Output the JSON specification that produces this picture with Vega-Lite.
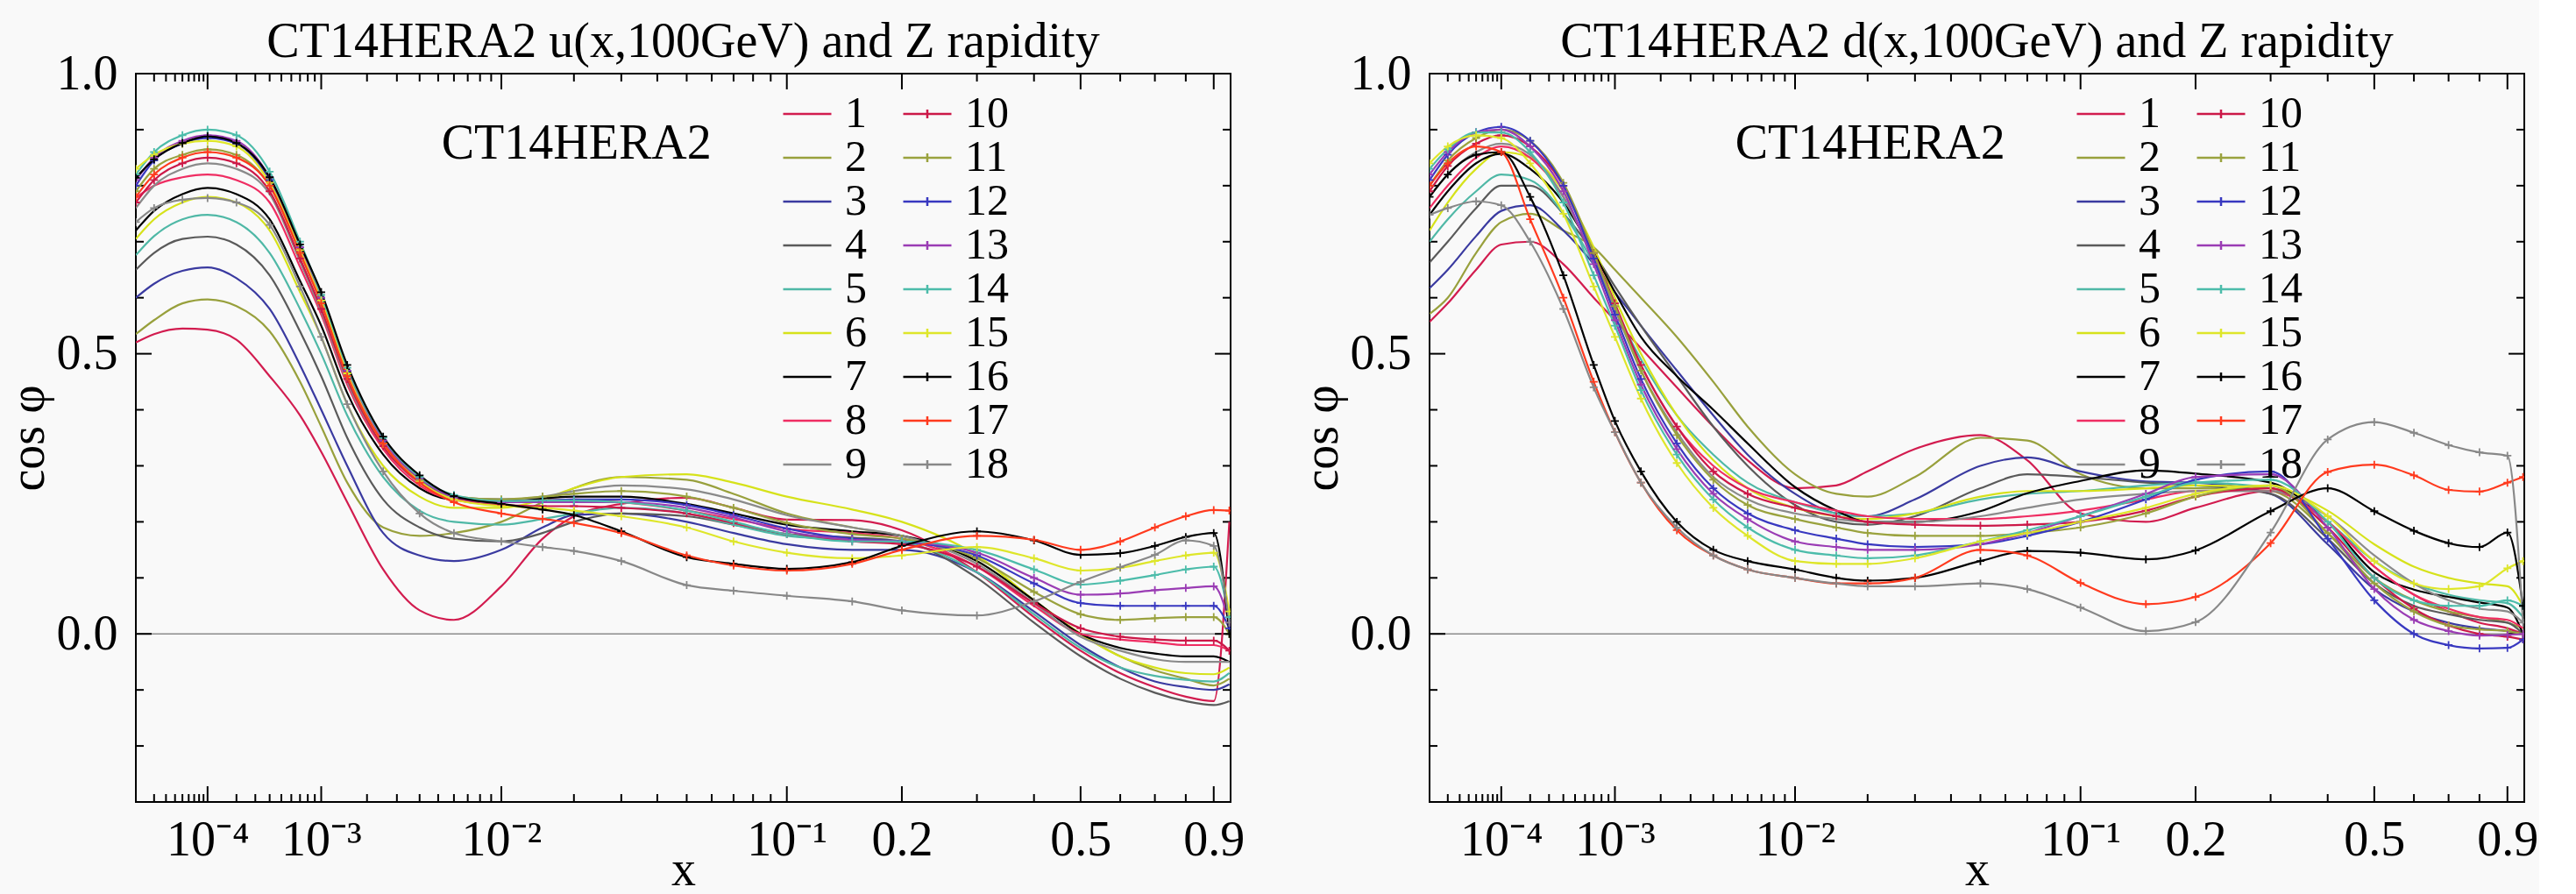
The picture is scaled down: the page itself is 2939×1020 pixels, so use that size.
{
  "$schema": "https://vega.github.io/schema/vega-lite/v6.json",
  "background": "#f9f9f9",
  "padding": {"left": 3, "top": 19, "right": 0, "bottom": 0},
  "spacing": 58,
  "resolve": {"scale": {"color": "independent"}},
  "datasets": {
    "xmaj": [{"t": 0.0001}, {"t": 0.001}, {"t": 0.01}, {"t": 0.1}, {"t": 0.2}, {"t": 0.5}, {"t": 0.9}],
    "xmin": [
      {"t": 2e-5}, {"t": 3e-5}, {"t": 4e-5}, {"t": 5e-5}, {"t": 6e-5}, {"t": 7e-5}, {"t": 8e-5}, {"t": 9e-5},
      {"t": 2e-4}, {"t": 3e-4}, {"t": 4e-4}, {"t": 5e-4}, {"t": 6e-4}, {"t": 7e-4}, {"t": 8e-4}, {"t": 9e-4},
      {"t": 2e-3}, {"t": 3e-3}, {"t": 4e-3}, {"t": 5e-3}, {"t": 6e-3}, {"t": 7e-3}, {"t": 8e-3}, {"t": 9e-3},
      {"t": 0.02}, {"t": 0.03}, {"t": 0.04}, {"t": 0.05}, {"t": 0.06}, {"t": 0.07}, {"t": 0.08}, {"t": 0.09},
      {"t": 0.3}, {"t": 0.4}, {"t": 0.6}, {"t": 0.7}, {"t": 0.8}
    ],
    "ymaj": [{"t": 0}, {"t": 0.5}],
    "ymin": [{"t": -0.2}, {"t": -0.1}, {"t": 0.1}, {"t": 0.2}, {"t": 0.3}, {"t": 0.4}, {"t": 0.6}, {"t": 0.7}, {"t": 0.8}, {"t": 0.9}],
    "u": [
      {"x":1e-5,"n":1,"cos":0.52},{"x":2e-5,"n":1,"cos":0.535},{"x":5e-5,"n":1,"cos":0.545},{"x":1e-4,"n":1,"cos":0.543},{"x":2e-4,"n":1,"cos":0.525},{"x":4e-4,"n":1,"cos":0.46},{"x":7e-4,"n":1,"cos":0.39},{"x":1e-3,"n":1,"cos":0.325},{"x":1.5e-3,"n":1,"cos":0.235},{"x":2.5e-3,"n":1,"cos":0.115},{"x":4e-3,"n":1,"cos":0.042},{"x":6e-3,"n":1,"cos":0.025},{"x":0.01,"n":1,"cos":0.085},{"x":0.015,"n":1,"cos":0.17},{"x":0.02,"n":1,"cos":0.21},{"x":0.03,"n":1,"cos":0.232},{"x":0.05,"n":1,"cos":0.243},{"x":0.07,"n":1,"cos":0.225},{"x":0.1,"n":1,"cos":0.204},{"x":0.15,"n":1,"cos":0.203},{"x":0.2,"n":1,"cos":0.185},{"x":0.3,"n":1,"cos":0.11},{"x":0.4,"n":1,"cos":0.03},{"x":0.5,"n":1,"cos":-0.03},{"x":0.6,"n":1,"cos":-0.07},{"x":0.7,"n":1,"cos":-0.095},{"x":0.8,"n":1,"cos":-0.112},{"x":0.9,"n":1,"cos":-0.12},{"x":0.96,"n":1,"cos":0.2},
      {"x":1e-5,"n":2,"cos":0.535},{"x":2e-5,"n":2,"cos":0.56},{"x":5e-5,"n":2,"cos":0.59},{"x":1e-4,"n":2,"cos":0.597},{"x":2e-4,"n":2,"cos":0.585},{"x":4e-4,"n":2,"cos":0.54},{"x":7e-4,"n":2,"cos":0.45},{"x":1e-3,"n":2,"cos":0.37},{"x":1.5e-3,"n":2,"cos":0.27},{"x":2.5e-3,"n":2,"cos":0.19},{"x":4e-3,"n":2,"cos":0.175},{"x":6e-3,"n":2,"cos":0.18},{"x":0.01,"n":2,"cos":0.2},{"x":0.015,"n":2,"cos":0.235},{"x":0.02,"n":2,"cos":0.26},{"x":0.03,"n":2,"cos":0.28},{"x":0.05,"n":2,"cos":0.275},{"x":0.07,"n":2,"cos":0.25},{"x":0.1,"n":2,"cos":0.215},{"x":0.15,"n":2,"cos":0.19},{"x":0.2,"n":2,"cos":0.175},{"x":0.3,"n":2,"cos":0.13},{"x":0.4,"n":2,"cos":0.06},{"x":0.5,"n":2,"cos":0},{"x":0.6,"n":2,"cos":-0.04},{"x":0.7,"n":2,"cos":-0.065},{"x":0.8,"n":2,"cos":-0.08},{"x":0.9,"n":2,"cos":-0.092},{"x":0.96,"n":2,"cos":-0.08},
      {"x":1e-5,"n":3,"cos":0.6},{"x":2e-5,"n":3,"cos":0.625},{"x":5e-5,"n":3,"cos":0.648},{"x":1e-4,"n":3,"cos":0.654},{"x":2e-4,"n":3,"cos":0.635},{"x":4e-4,"n":3,"cos":0.58},{"x":7e-4,"n":3,"cos":0.48},{"x":1e-3,"n":3,"cos":0.4},{"x":1.5e-3,"n":3,"cos":0.3},{"x":2.5e-3,"n":3,"cos":0.18},{"x":4e-3,"n":3,"cos":0.14},{"x":6e-3,"n":3,"cos":0.13},{"x":0.01,"n":3,"cos":0.15},{"x":0.015,"n":3,"cos":0.19},{"x":0.02,"n":3,"cos":0.212},{"x":0.03,"n":3,"cos":0.215},{"x":0.05,"n":3,"cos":0.2},{"x":0.07,"n":3,"cos":0.18},{"x":0.1,"n":3,"cos":0.16},{"x":0.15,"n":3,"cos":0.15},{"x":0.2,"n":3,"cos":0.15},{"x":0.3,"n":3,"cos":0.11},{"x":0.4,"n":3,"cos":0.04},{"x":0.5,"n":3,"cos":-0.02},{"x":0.6,"n":3,"cos":-0.06},{"x":0.7,"n":3,"cos":-0.085},{"x":0.8,"n":3,"cos":-0.095},{"x":0.9,"n":3,"cos":-0.1},{"x":0.96,"n":3,"cos":-0.09},
      {"x":1e-5,"n":4,"cos":0.65},{"x":2e-5,"n":4,"cos":0.68},{"x":5e-5,"n":4,"cos":0.705},{"x":1e-4,"n":4,"cos":0.709},{"x":2e-4,"n":4,"cos":0.695},{"x":4e-4,"n":4,"cos":0.64},{"x":7e-4,"n":4,"cos":0.54},{"x":1e-3,"n":4,"cos":0.46},{"x":1.5e-3,"n":4,"cos":0.35},{"x":2.5e-3,"n":4,"cos":0.24},{"x":4e-3,"n":4,"cos":0.19},{"x":6e-3,"n":4,"cos":0.17},{"x":0.01,"n":4,"cos":0.165},{"x":0.015,"n":4,"cos":0.18},{"x":0.02,"n":4,"cos":0.2},{"x":0.03,"n":4,"cos":0.215},{"x":0.05,"n":4,"cos":0.21},{"x":0.07,"n":4,"cos":0.195},{"x":0.1,"n":4,"cos":0.178},{"x":0.15,"n":4,"cos":0.172},{"x":0.2,"n":4,"cos":0.165},{"x":0.3,"n":4,"cos":0.1},{"x":0.4,"n":4,"cos":0.02},{"x":0.5,"n":4,"cos":-0.04},{"x":0.6,"n":4,"cos":-0.08},{"x":0.7,"n":4,"cos":-0.105},{"x":0.8,"n":4,"cos":-0.12},{"x":0.9,"n":4,"cos":-0.127},{"x":0.96,"n":4,"cos":-0.12},
      {"x":1e-5,"n":5,"cos":0.676},{"x":2e-5,"n":5,"cos":0.71},{"x":5e-5,"n":5,"cos":0.74},{"x":1e-4,"n":5,"cos":0.748},{"x":2e-4,"n":5,"cos":0.735},{"x":4e-4,"n":5,"cos":0.68},{"x":7e-4,"n":5,"cos":0.58},{"x":1e-3,"n":5,"cos":0.5},{"x":1.5e-3,"n":5,"cos":0.39},{"x":2.5e-3,"n":5,"cos":0.28},{"x":4e-3,"n":5,"cos":0.22},{"x":6e-3,"n":5,"cos":0.2},{"x":0.01,"n":5,"cos":0.195},{"x":0.015,"n":5,"cos":0.205},{"x":0.02,"n":5,"cos":0.215},{"x":0.03,"n":5,"cos":0.225},{"x":0.05,"n":5,"cos":0.215},{"x":0.07,"n":5,"cos":0.195},{"x":0.1,"n":5,"cos":0.175},{"x":0.15,"n":5,"cos":0.168},{"x":0.2,"n":5,"cos":0.163},{"x":0.3,"n":5,"cos":0.11},{"x":0.4,"n":5,"cos":0.035},{"x":0.5,"n":5,"cos":-0.025},{"x":0.6,"n":5,"cos":-0.06},{"x":0.7,"n":5,"cos":-0.075},{"x":0.8,"n":5,"cos":-0.082},{"x":0.9,"n":5,"cos":-0.085},{"x":0.96,"n":5,"cos":-0.07},
      {"x":1e-5,"n":6,"cos":0.705},{"x":2e-5,"n":6,"cos":0.74},{"x":5e-5,"n":6,"cos":0.77},{"x":1e-4,"n":6,"cos":0.78},{"x":2e-4,"n":6,"cos":0.77},{"x":4e-4,"n":6,"cos":0.72},{"x":7e-4,"n":6,"cos":0.61},{"x":1e-3,"n":6,"cos":0.53},{"x":1.5e-3,"n":6,"cos":0.41},{"x":2.5e-3,"n":6,"cos":0.3},{"x":4e-3,"n":6,"cos":0.245},{"x":6e-3,"n":6,"cos":0.225},{"x":0.01,"n":6,"cos":0.225},{"x":0.015,"n":6,"cos":0.24},{"x":0.02,"n":6,"cos":0.26},{"x":0.03,"n":6,"cos":0.28},{"x":0.05,"n":6,"cos":0.285},{"x":0.07,"n":6,"cos":0.27},{"x":0.1,"n":6,"cos":0.245},{"x":0.15,"n":6,"cos":0.222},{"x":0.2,"n":6,"cos":0.2},{"x":0.3,"n":6,"cos":0.14},{"x":0.4,"n":6,"cos":0.06},{"x":0.5,"n":6,"cos":0},{"x":0.6,"n":6,"cos":-0.04},{"x":0.7,"n":6,"cos":-0.06},{"x":0.8,"n":6,"cos":-0.07},{"x":0.9,"n":6,"cos":-0.072},{"x":0.96,"n":6,"cos":-0.06},
      {"x":1e-5,"n":7,"cos":0.72},{"x":2e-5,"n":7,"cos":0.755},{"x":5e-5,"n":7,"cos":0.785},{"x":1e-4,"n":7,"cos":0.796},{"x":2e-4,"n":7,"cos":0.785},{"x":4e-4,"n":7,"cos":0.74},{"x":7e-4,"n":7,"cos":0.63},{"x":1e-3,"n":7,"cos":0.55},{"x":1.5e-3,"n":7,"cos":0.43},{"x":2.5e-3,"n":7,"cos":0.32},{"x":4e-3,"n":7,"cos":0.26},{"x":6e-3,"n":7,"cos":0.24},{"x":0.01,"n":7,"cos":0.24},{"x":0.015,"n":7,"cos":0.242},{"x":0.02,"n":7,"cos":0.245},{"x":0.03,"n":7,"cos":0.245},{"x":0.05,"n":7,"cos":0.232},{"x":0.07,"n":7,"cos":0.215},{"x":0.1,"n":7,"cos":0.195},{"x":0.15,"n":7,"cos":0.183},{"x":0.2,"n":7,"cos":0.175},{"x":0.3,"n":7,"cos":0.13},{"x":0.4,"n":7,"cos":0.06},{"x":0.5,"n":7,"cos":0},{"x":0.6,"n":7,"cos":-0.025},{"x":0.7,"n":7,"cos":-0.035},{"x":0.8,"n":7,"cos":-0.04},{"x":0.9,"n":7,"cos":-0.04},{"x":0.96,"n":7,"cos":-0.05},
      {"x":1e-5,"n":8,"cos":0.778},{"x":2e-5,"n":8,"cos":0.8},{"x":5e-5,"n":8,"cos":0.815},{"x":1e-4,"n":8,"cos":0.82},{"x":2e-4,"n":8,"cos":0.81},{"x":4e-4,"n":8,"cos":0.77},{"x":7e-4,"n":8,"cos":0.655},{"x":1e-3,"n":8,"cos":0.57},{"x":1.5e-3,"n":8,"cos":0.445},{"x":2.5e-3,"n":8,"cos":0.33},{"x":4e-3,"n":8,"cos":0.265},{"x":6e-3,"n":8,"cos":0.24},{"x":0.01,"n":8,"cos":0.235},{"x":0.015,"n":8,"cos":0.238},{"x":0.02,"n":8,"cos":0.24},{"x":0.03,"n":8,"cos":0.235},{"x":0.05,"n":8,"cos":0.22},{"x":0.07,"n":8,"cos":0.205},{"x":0.1,"n":8,"cos":0.188},{"x":0.15,"n":8,"cos":0.18},{"x":0.2,"n":8,"cos":0.17},{"x":0.3,"n":8,"cos":0.12},{"x":0.4,"n":8,"cos":0.05},{"x":0.5,"n":8,"cos":0},{"x":0.6,"n":8,"cos":-0.01},{"x":0.7,"n":8,"cos":-0.015},{"x":0.8,"n":8,"cos":-0.02},{"x":0.9,"n":8,"cos":-0.02},{"x":0.96,"n":8,"cos":-0.03},
      {"x":1e-5,"n":9,"cos":0.76},{"x":2e-5,"n":9,"cos":0.8},{"x":5e-5,"n":9,"cos":0.83},{"x":1e-4,"n":9,"cos":0.84},{"x":2e-4,"n":9,"cos":0.83},{"x":4e-4,"n":9,"cos":0.785},{"x":7e-4,"n":9,"cos":0.665},{"x":1e-3,"n":9,"cos":0.575},{"x":1.5e-3,"n":9,"cos":0.45},{"x":2.5e-3,"n":9,"cos":0.335},{"x":4e-3,"n":9,"cos":0.27},{"x":6e-3,"n":9,"cos":0.245},{"x":0.01,"n":9,"cos":0.24},{"x":0.015,"n":9,"cos":0.245},{"x":0.02,"n":9,"cos":0.255},{"x":0.03,"n":9,"cos":0.265},{"x":0.05,"n":9,"cos":0.258},{"x":0.07,"n":9,"cos":0.24},{"x":0.1,"n":9,"cos":0.212},{"x":0.15,"n":9,"cos":0.19},{"x":0.2,"n":9,"cos":0.175},{"x":0.3,"n":9,"cos":0.125},{"x":0.4,"n":9,"cos":0.055},{"x":0.5,"n":9,"cos":-0.005},{"x":0.6,"n":9,"cos":-0.03},{"x":0.7,"n":9,"cos":-0.045},{"x":0.8,"n":9,"cos":-0.05},{"x":0.9,"n":9,"cos":-0.05},{"x":0.96,"n":9,"cos":-0.05},
      {"x":1e-5,"n":10,"cos":0.77},{"x":2e-5,"n":10,"cos":0.81},{"x":5e-5,"n":10,"cos":0.84},{"x":1e-4,"n":10,"cos":0.85},{"x":2e-4,"n":10,"cos":0.84},{"x":4e-4,"n":10,"cos":0.79},{"x":7e-4,"n":10,"cos":0.67},{"x":1e-3,"n":10,"cos":0.58},{"x":1.5e-3,"n":10,"cos":0.455},{"x":2.5e-3,"n":10,"cos":0.335},{"x":4e-3,"n":10,"cos":0.27},{"x":6e-3,"n":10,"cos":0.24},{"x":0.01,"n":10,"cos":0.23},{"x":0.015,"n":10,"cos":0.228},{"x":0.02,"n":10,"cos":0.228},{"x":0.03,"n":10,"cos":0.225},{"x":0.05,"n":10,"cos":0.215},{"x":0.07,"n":10,"cos":0.198},{"x":0.1,"n":10,"cos":0.178},{"x":0.15,"n":10,"cos":0.165},{"x":0.2,"n":10,"cos":0.16},{"x":0.3,"n":10,"cos":0.12},{"x":0.4,"n":10,"cos":0.055},{"x":0.5,"n":10,"cos":0.01},{"x":0.6,"n":10,"cos":-0.005},{"x":0.7,"n":10,"cos":-0.01},{"x":0.8,"n":10,"cos":-0.012},{"x":0.9,"n":10,"cos":-0.012},{"x":0.96,"n":10,"cos":-0.03},
      {"x":1e-5,"n":11,"cos":0.79},{"x":2e-5,"n":11,"cos":0.83},{"x":5e-5,"n":11,"cos":0.855},{"x":1e-4,"n":11,"cos":0.865},{"x":2e-4,"n":11,"cos":0.855},{"x":4e-4,"n":11,"cos":0.8},{"x":7e-4,"n":11,"cos":0.68},{"x":1e-3,"n":11,"cos":0.59},{"x":1.5e-3,"n":11,"cos":0.46},{"x":2.5e-3,"n":11,"cos":0.34},{"x":4e-3,"n":11,"cos":0.275},{"x":6e-3,"n":11,"cos":0.245},{"x":0.01,"n":11,"cos":0.24},{"x":0.015,"n":11,"cos":0.245},{"x":0.02,"n":11,"cos":0.25},{"x":0.03,"n":11,"cos":0.255},{"x":0.05,"n":11,"cos":0.245},{"x":0.07,"n":11,"cos":0.225},{"x":0.1,"n":11,"cos":0.198},{"x":0.15,"n":11,"cos":0.178},{"x":0.2,"n":11,"cos":0.17},{"x":0.3,"n":11,"cos":0.135},{"x":0.4,"n":11,"cos":0.075},{"x":0.5,"n":11,"cos":0.035},{"x":0.6,"n":11,"cos":0.025},{"x":0.7,"n":11,"cos":0.028},{"x":0.8,"n":11,"cos":0.03},{"x":0.9,"n":11,"cos":0.03},{"x":0.96,"n":11,"cos":0},
      {"x":1e-5,"n":12,"cos":0.8},{"x":2e-5,"n":12,"cos":0.845},{"x":5e-5,"n":12,"cos":0.875},{"x":1e-4,"n":12,"cos":0.885},{"x":2e-4,"n":12,"cos":0.875},{"x":4e-4,"n":12,"cos":0.81},{"x":7e-4,"n":12,"cos":0.69},{"x":1e-3,"n":12,"cos":0.6},{"x":1.5e-3,"n":12,"cos":0.47},{"x":2.5e-3,"n":12,"cos":0.345},{"x":4e-3,"n":12,"cos":0.278},{"x":6e-3,"n":12,"cos":0.245},{"x":0.01,"n":12,"cos":0.235},{"x":0.015,"n":12,"cos":0.238},{"x":0.02,"n":12,"cos":0.24},{"x":0.03,"n":12,"cos":0.24},{"x":0.05,"n":12,"cos":0.23},{"x":0.07,"n":12,"cos":0.212},{"x":0.1,"n":12,"cos":0.188},{"x":0.15,"n":12,"cos":0.17},{"x":0.2,"n":12,"cos":0.165},{"x":0.3,"n":12,"cos":0.14},{"x":0.4,"n":12,"cos":0.09},{"x":0.5,"n":12,"cos":0.055},{"x":0.6,"n":12,"cos":0.05},{"x":0.7,"n":12,"cos":0.05},{"x":0.8,"n":12,"cos":0.05},{"x":0.9,"n":12,"cos":0.05},{"x":0.96,"n":12,"cos":0.01},
      {"x":1e-5,"n":13,"cos":0.81},{"x":2e-5,"n":13,"cos":0.85},{"x":5e-5,"n":13,"cos":0.88},{"x":1e-4,"n":13,"cos":0.89},{"x":2e-4,"n":13,"cos":0.88},{"x":4e-4,"n":13,"cos":0.815},{"x":7e-4,"n":13,"cos":0.69},{"x":1e-3,"n":13,"cos":0.6},{"x":1.5e-3,"n":13,"cos":0.47},{"x":2.5e-3,"n":13,"cos":0.345},{"x":4e-3,"n":13,"cos":0.278},{"x":6e-3,"n":13,"cos":0.245},{"x":0.01,"n":13,"cos":0.235},{"x":0.015,"n":13,"cos":0.235},{"x":0.02,"n":13,"cos":0.235},{"x":0.03,"n":13,"cos":0.235},{"x":0.05,"n":13,"cos":0.225},{"x":0.07,"n":13,"cos":0.208},{"x":0.1,"n":13,"cos":0.183},{"x":0.15,"n":13,"cos":0.168},{"x":0.2,"n":13,"cos":0.165},{"x":0.3,"n":13,"cos":0.145},{"x":0.4,"n":13,"cos":0.1},{"x":0.5,"n":13,"cos":0.07},{"x":0.6,"n":13,"cos":0.072},{"x":0.7,"n":13,"cos":0.078},{"x":0.8,"n":13,"cos":0.082},{"x":0.9,"n":13,"cos":0.085},{"x":0.96,"n":13,"cos":0.02},
      {"x":1e-5,"n":14,"cos":0.82},{"x":2e-5,"n":14,"cos":0.86},{"x":5e-5,"n":14,"cos":0.89},{"x":1e-4,"n":14,"cos":0.9},{"x":2e-4,"n":14,"cos":0.89},{"x":4e-4,"n":14,"cos":0.825},{"x":7e-4,"n":14,"cos":0.7},{"x":1e-3,"n":14,"cos":0.605},{"x":1.5e-3,"n":14,"cos":0.475},{"x":2.5e-3,"n":14,"cos":0.35},{"x":4e-3,"n":14,"cos":0.28},{"x":6e-3,"n":14,"cos":0.248},{"x":0.01,"n":14,"cos":0.237},{"x":0.015,"n":14,"cos":0.238},{"x":0.02,"n":14,"cos":0.238},{"x":0.03,"n":14,"cos":0.235},{"x":0.05,"n":14,"cos":0.22},{"x":0.07,"n":14,"cos":0.2},{"x":0.1,"n":14,"cos":0.178},{"x":0.15,"n":14,"cos":0.165},{"x":0.2,"n":14,"cos":0.165},{"x":0.3,"n":14,"cos":0.15},{"x":0.4,"n":14,"cos":0.115},{"x":0.5,"n":14,"cos":0.088},{"x":0.6,"n":14,"cos":0.095},{"x":0.7,"n":14,"cos":0.105},{"x":0.8,"n":14,"cos":0.115},{"x":0.9,"n":14,"cos":0.12},{"x":0.96,"n":14,"cos":0.03},
      {"x":1e-5,"n":15,"cos":0.83},{"x":2e-5,"n":15,"cos":0.855},{"x":5e-5,"n":15,"cos":0.875},{"x":1e-4,"n":15,"cos":0.88},{"x":2e-4,"n":15,"cos":0.87},{"x":4e-4,"n":15,"cos":0.805},{"x":7e-4,"n":15,"cos":0.685},{"x":1e-3,"n":15,"cos":0.595},{"x":1.5e-3,"n":15,"cos":0.465},{"x":2.5e-3,"n":15,"cos":0.34},{"x":4e-3,"n":15,"cos":0.272},{"x":6e-3,"n":15,"cos":0.24},{"x":0.01,"n":15,"cos":0.228},{"x":0.015,"n":15,"cos":0.225},{"x":0.02,"n":15,"cos":0.22},{"x":0.03,"n":15,"cos":0.21},{"x":0.05,"n":15,"cos":0.19},{"x":0.07,"n":15,"cos":0.165},{"x":0.1,"n":15,"cos":0.145},{"x":0.15,"n":15,"cos":0.135},{"x":0.2,"n":15,"cos":0.14},{"x":0.3,"n":15,"cos":0.155},{"x":0.4,"n":15,"cos":0.135},{"x":0.5,"n":15,"cos":0.113},{"x":0.6,"n":15,"cos":0.118},{"x":0.7,"n":15,"cos":0.13},{"x":0.8,"n":15,"cos":0.14},{"x":0.9,"n":15,"cos":0.145},{"x":0.96,"n":15,"cos":0.04},
      {"x":1e-5,"n":16,"cos":0.814},{"x":2e-5,"n":16,"cos":0.847},{"x":5e-5,"n":16,"cos":0.876},{"x":1e-4,"n":16,"cos":0.888},{"x":2e-4,"n":16,"cos":0.876},{"x":4e-4,"n":16,"cos":0.815},{"x":7e-4,"n":16,"cos":0.695},{"x":1e-3,"n":16,"cos":0.61},{"x":1.5e-3,"n":16,"cos":0.48},{"x":2.5e-3,"n":16,"cos":0.352},{"x":4e-3,"n":16,"cos":0.283},{"x":6e-3,"n":16,"cos":0.246},{"x":0.01,"n":16,"cos":0.232},{"x":0.015,"n":16,"cos":0.222},{"x":0.02,"n":16,"cos":0.212},{"x":0.03,"n":16,"cos":0.183},{"x":0.05,"n":16,"cos":0.137},{"x":0.07,"n":16,"cos":0.125},{"x":0.1,"n":16,"cos":0.116},{"x":0.15,"n":16,"cos":0.128},{"x":0.2,"n":16,"cos":0.157},{"x":0.3,"n":16,"cos":0.183},{"x":0.4,"n":16,"cos":0.167},{"x":0.5,"n":16,"cos":0.141},{"x":0.6,"n":16,"cos":0.144},{"x":0.7,"n":16,"cos":0.157},{"x":0.8,"n":16,"cos":0.173},{"x":0.9,"n":16,"cos":0.18},{"x":0.96,"n":16,"cos":0},
      {"x":1e-5,"n":17,"cos":0.78},{"x":2e-5,"n":17,"cos":0.82},{"x":5e-5,"n":17,"cos":0.85},{"x":1e-4,"n":17,"cos":0.86},{"x":2e-4,"n":17,"cos":0.85},{"x":4e-4,"n":17,"cos":0.8},{"x":7e-4,"n":17,"cos":0.68},{"x":1e-3,"n":17,"cos":0.59},{"x":1.5e-3,"n":17,"cos":0.46},{"x":2.5e-3,"n":17,"cos":0.34},{"x":4e-3,"n":17,"cos":0.27},{"x":6e-3,"n":17,"cos":0.235},{"x":0.01,"n":17,"cos":0.215},{"x":0.015,"n":17,"cos":0.205},{"x":0.02,"n":17,"cos":0.198},{"x":0.03,"n":17,"cos":0.18},{"x":0.05,"n":17,"cos":0.14},{"x":0.07,"n":17,"cos":0.122},{"x":0.1,"n":17,"cos":0.113},{"x":0.15,"n":17,"cos":0.125},{"x":0.2,"n":17,"cos":0.15},{"x":0.3,"n":17,"cos":0.175},{"x":0.4,"n":17,"cos":0.168},{"x":0.5,"n":17,"cos":0.15},{"x":0.6,"n":17,"cos":0.165},{"x":0.7,"n":17,"cos":0.19},{"x":0.8,"n":17,"cos":0.21},{"x":0.9,"n":17,"cos":0.221},{"x":0.96,"n":17,"cos":0.22},
      {"x":1e-5,"n":18,"cos":0.735},{"x":2e-5,"n":18,"cos":0.76},{"x":5e-5,"n":18,"cos":0.775},{"x":1e-4,"n":18,"cos":0.778},{"x":2e-4,"n":18,"cos":0.77},{"x":4e-4,"n":18,"cos":0.73},{"x":7e-4,"n":18,"cos":0.62},{"x":1e-3,"n":18,"cos":0.53},{"x":1.5e-3,"n":18,"cos":0.41},{"x":2.5e-3,"n":18,"cos":0.29},{"x":4e-3,"n":18,"cos":0.215},{"x":6e-3,"n":18,"cos":0.18},{"x":0.01,"n":18,"cos":0.165},{"x":0.015,"n":18,"cos":0.155},{"x":0.02,"n":18,"cos":0.148},{"x":0.03,"n":18,"cos":0.13},{"x":0.05,"n":18,"cos":0.087},{"x":0.07,"n":18,"cos":0.077},{"x":0.1,"n":18,"cos":0.068},{"x":0.15,"n":18,"cos":0.058},{"x":0.2,"n":18,"cos":0.042},{"x":0.3,"n":18,"cos":0.033},{"x":0.4,"n":18,"cos":0.058},{"x":0.5,"n":18,"cos":0.093},{"x":0.6,"n":18,"cos":0.119},{"x":0.7,"n":18,"cos":0.141},{"x":0.8,"n":18,"cos":0.167},{"x":0.9,"n":18,"cos":0.157},{"x":0.96,"n":18,"cos":0.02}
    ],
    "d": [
      {"x":1e-5,"n":1,"cos":0.557},{"x":2e-5,"n":1,"cos":0.59},{"x":5e-5,"n":1,"cos":0.65},{"x":1e-4,"n":1,"cos":0.695},{"x":2e-4,"n":1,"cos":0.7},{"x":4e-4,"n":1,"cos":0.66},{"x":7e-4,"n":1,"cos":0.6},{"x":1e-3,"n":1,"cos":0.56},{"x":1.5e-3,"n":1,"cos":0.51},{"x":2.5e-3,"n":1,"cos":0.44},{"x":4e-3,"n":1,"cos":0.37},{"x":6e-3,"n":1,"cos":0.31},{"x":0.01,"n":1,"cos":0.26},{"x":0.015,"n":1,"cos":0.265},{"x":0.02,"n":1,"cos":0.29},{"x":0.03,"n":1,"cos":0.33},{"x":0.05,"n":1,"cos":0.355},{"x":0.07,"n":1,"cos":0.31},{"x":0.1,"n":1,"cos":0.215},{"x":0.15,"n":1,"cos":0.2},{"x":0.2,"n":1,"cos":0.225},{"x":0.3,"n":1,"cos":0.255},{"x":0.4,"n":1,"cos":0.2},{"x":0.5,"n":1,"cos":0.12},{"x":0.6,"n":1,"cos":0.07},{"x":0.7,"n":1,"cos":0.04},{"x":0.8,"n":1,"cos":0.02},{"x":0.9,"n":1,"cos":0.01},{"x":0.96,"n":1,"cos":0},
      {"x":1e-5,"n":2,"cos":0.571},{"x":2e-5,"n":2,"cos":0.6},{"x":5e-5,"n":2,"cos":0.68},{"x":1e-4,"n":2,"cos":0.735},{"x":2e-4,"n":2,"cos":0.75},{"x":4e-4,"n":2,"cos":0.72},{"x":7e-4,"n":2,"cos":0.69},{"x":1e-3,"n":2,"cos":0.65},{"x":1.5e-3,"n":2,"cos":0.6},{"x":2.5e-3,"n":2,"cos":0.53},{"x":4e-3,"n":2,"cos":0.45},{"x":6e-3,"n":2,"cos":0.37},{"x":0.01,"n":2,"cos":0.285},{"x":0.015,"n":2,"cos":0.25},{"x":0.02,"n":2,"cos":0.245},{"x":0.03,"n":2,"cos":0.28},{"x":0.05,"n":2,"cos":0.35},{"x":0.07,"n":2,"cos":0.345},{"x":0.1,"n":2,"cos":0.285},{"x":0.15,"n":2,"cos":0.26},{"x":0.2,"n":2,"cos":0.26},{"x":0.3,"n":2,"cos":0.255},{"x":0.4,"n":2,"cos":0.18},{"x":0.5,"n":2,"cos":0.1},{"x":0.6,"n":2,"cos":0.06},{"x":0.7,"n":2,"cos":0.04},{"x":0.8,"n":2,"cos":0.03},{"x":0.9,"n":2,"cos":0.02},{"x":0.96,"n":2,"cos":0.01},
      {"x":1e-5,"n":3,"cos":0.617},{"x":2e-5,"n":3,"cos":0.65},{"x":5e-5,"n":3,"cos":0.71},{"x":1e-4,"n":3,"cos":0.755},{"x":2e-4,"n":3,"cos":0.765},{"x":4e-4,"n":3,"cos":0.72},{"x":7e-4,"n":3,"cos":0.66},{"x":1e-3,"n":3,"cos":0.61},{"x":1.5e-3,"n":3,"cos":0.55},{"x":2.5e-3,"n":3,"cos":0.47},{"x":4e-3,"n":3,"cos":0.39},{"x":6e-3,"n":3,"cos":0.32},{"x":0.01,"n":3,"cos":0.25},{"x":0.015,"n":3,"cos":0.215},{"x":0.02,"n":3,"cos":0.21},{"x":0.03,"n":3,"cos":0.24},{"x":0.05,"n":3,"cos":0.3},{"x":0.07,"n":3,"cos":0.315},{"x":0.1,"n":3,"cos":0.29},{"x":0.15,"n":3,"cos":0.272},{"x":0.2,"n":3,"cos":0.27},{"x":0.3,"n":3,"cos":0.25},{"x":0.4,"n":3,"cos":0.16},{"x":0.5,"n":3,"cos":0.08},{"x":0.6,"n":3,"cos":0.04},{"x":0.7,"n":3,"cos":0.02},{"x":0.8,"n":3,"cos":0.01},{"x":0.9,"n":3,"cos":0.005},{"x":0.96,"n":3,"cos":0},
      {"x":1e-5,"n":4,"cos":0.663},{"x":2e-5,"n":4,"cos":0.7},{"x":5e-5,"n":4,"cos":0.76},{"x":1e-4,"n":4,"cos":0.8},{"x":2e-4,"n":4,"cos":0.8},{"x":4e-4,"n":4,"cos":0.75},{"x":7e-4,"n":4,"cos":0.68},{"x":1e-3,"n":4,"cos":0.62},{"x":1.5e-3,"n":4,"cos":0.55},{"x":2.5e-3,"n":4,"cos":0.46},{"x":4e-3,"n":4,"cos":0.37},{"x":6e-3,"n":4,"cos":0.3},{"x":0.01,"n":4,"cos":0.23},{"x":0.015,"n":4,"cos":0.2},{"x":0.02,"n":4,"cos":0.195},{"x":0.03,"n":4,"cos":0.21},{"x":0.05,"n":4,"cos":0.26},{"x":0.07,"n":4,"cos":0.285},{"x":0.1,"n":4,"cos":0.28},{"x":0.15,"n":4,"cos":0.27},{"x":0.2,"n":4,"cos":0.265},{"x":0.3,"n":4,"cos":0.25},{"x":0.4,"n":4,"cos":0.17},{"x":0.5,"n":4,"cos":0.09},{"x":0.6,"n":4,"cos":0.05},{"x":0.7,"n":4,"cos":0.035},{"x":0.8,"n":4,"cos":0.025},{"x":0.9,"n":4,"cos":0.02},{"x":0.96,"n":4,"cos":0},
      {"x":1e-5,"n":5,"cos":0.7},{"x":2e-5,"n":5,"cos":0.74},{"x":5e-5,"n":5,"cos":0.79},{"x":1e-4,"n":5,"cos":0.82},{"x":2e-4,"n":5,"cos":0.81},{"x":4e-4,"n":5,"cos":0.75},{"x":7e-4,"n":5,"cos":0.66},{"x":1e-3,"n":5,"cos":0.58},{"x":1.5e-3,"n":5,"cos":0.49},{"x":2.5e-3,"n":5,"cos":0.39},{"x":4e-3,"n":5,"cos":0.32},{"x":6e-3,"n":5,"cos":0.27},{"x":0.01,"n":5,"cos":0.235},{"x":0.015,"n":5,"cos":0.215},{"x":0.02,"n":5,"cos":0.21},{"x":0.03,"n":5,"cos":0.215},{"x":0.05,"n":5,"cos":0.24},{"x":0.07,"n":5,"cos":0.25},{"x":0.1,"n":5,"cos":0.255},{"x":0.15,"n":5,"cos":0.265},{"x":0.2,"n":5,"cos":0.27},{"x":0.3,"n":5,"cos":0.26},{"x":0.4,"n":5,"cos":0.2},{"x":0.5,"n":5,"cos":0.13},{"x":0.6,"n":5,"cos":0.09},{"x":0.7,"n":5,"cos":0.07},{"x":0.8,"n":5,"cos":0.06},{"x":0.9,"n":5,"cos":0.055},{"x":0.96,"n":5,"cos":0.03},
      {"x":1e-5,"n":6,"cos":0.72},{"x":2e-5,"n":6,"cos":0.77},{"x":5e-5,"n":6,"cos":0.83},{"x":1e-4,"n":6,"cos":0.86},{"x":2e-4,"n":6,"cos":0.85},{"x":4e-4,"n":6,"cos":0.79},{"x":7e-4,"n":6,"cos":0.69},{"x":1e-3,"n":6,"cos":0.6},{"x":1.5e-3,"n":6,"cos":0.5},{"x":2.5e-3,"n":6,"cos":0.39},{"x":4e-3,"n":6,"cos":0.31},{"x":6e-3,"n":6,"cos":0.26},{"x":0.01,"n":6,"cos":0.225},{"x":0.015,"n":6,"cos":0.21},{"x":0.02,"n":6,"cos":0.205},{"x":0.03,"n":6,"cos":0.215},{"x":0.05,"n":6,"cos":0.245},{"x":0.07,"n":6,"cos":0.255},{"x":0.1,"n":6,"cos":0.255},{"x":0.15,"n":6,"cos":0.26},{"x":0.2,"n":6,"cos":0.265},{"x":0.3,"n":6,"cos":0.26},{"x":0.4,"n":6,"cos":0.22},{"x":0.5,"n":6,"cos":0.16},{"x":0.6,"n":6,"cos":0.12},{"x":0.7,"n":6,"cos":0.1},{"x":0.8,"n":6,"cos":0.09},{"x":0.9,"n":6,"cos":0.085},{"x":0.96,"n":6,"cos":0.05},
      {"x":1e-5,"n":7,"cos":0.748},{"x":2e-5,"n":7,"cos":0.79},{"x":5e-5,"n":7,"cos":0.84},{"x":1e-4,"n":7,"cos":0.857},{"x":2e-4,"n":7,"cos":0.83},{"x":4e-4,"n":7,"cos":0.77},{"x":7e-4,"n":7,"cos":0.68},{"x":1e-3,"n":7,"cos":0.61},{"x":1.5e-3,"n":7,"cos":0.53},{"x":2.5e-3,"n":7,"cos":0.46},{"x":4e-3,"n":7,"cos":0.4},{"x":6e-3,"n":7,"cos":0.34},{"x":0.01,"n":7,"cos":0.262},{"x":0.015,"n":7,"cos":0.22},{"x":0.02,"n":7,"cos":0.2},{"x":0.03,"n":7,"cos":0.2},{"x":0.05,"n":7,"cos":0.219},{"x":0.07,"n":7,"cos":0.251},{"x":0.1,"n":7,"cos":0.273},{"x":0.15,"n":7,"cos":0.292},{"x":0.2,"n":7,"cos":0.286},{"x":0.3,"n":7,"cos":0.27},{"x":0.4,"n":7,"cos":0.2},{"x":0.5,"n":7,"cos":0.11},{"x":0.6,"n":7,"cos":0.079},{"x":0.7,"n":7,"cos":0.066},{"x":0.8,"n":7,"cos":0.056},{"x":0.9,"n":7,"cos":0.047},{"x":0.96,"n":7,"cos":0},
      {"x":1e-5,"n":8,"cos":0.76},{"x":2e-5,"n":8,"cos":0.8},{"x":5e-5,"n":8,"cos":0.85},{"x":1e-4,"n":8,"cos":0.87},{"x":2e-4,"n":8,"cos":0.85},{"x":4e-4,"n":8,"cos":0.78},{"x":7e-4,"n":8,"cos":0.67},{"x":1e-3,"n":8,"cos":0.58},{"x":1.5e-3,"n":8,"cos":0.48},{"x":2.5e-3,"n":8,"cos":0.37},{"x":4e-3,"n":8,"cos":0.3},{"x":6e-3,"n":8,"cos":0.26},{"x":0.01,"n":8,"cos":0.235},{"x":0.015,"n":8,"cos":0.22},{"x":0.02,"n":8,"cos":0.21},{"x":0.03,"n":8,"cos":0.205},{"x":0.05,"n":8,"cos":0.205},{"x":0.07,"n":8,"cos":0.21},{"x":0.1,"n":8,"cos":0.22},{"x":0.15,"n":8,"cos":0.24},{"x":0.2,"n":8,"cos":0.255},{"x":0.3,"n":8,"cos":0.255},{"x":0.4,"n":8,"cos":0.2},{"x":0.5,"n":8,"cos":0.12},{"x":0.6,"n":8,"cos":0.07},{"x":0.7,"n":8,"cos":0.045},{"x":0.8,"n":8,"cos":0.03},{"x":0.9,"n":8,"cos":0.025},{"x":0.96,"n":8,"cos":0.01},
      {"x":1e-5,"n":9,"cos":0.78},{"x":2e-5,"n":9,"cos":0.82},{"x":5e-5,"n":9,"cos":0.86},{"x":1e-4,"n":9,"cos":0.875},{"x":2e-4,"n":9,"cos":0.855},{"x":4e-4,"n":9,"cos":0.78},{"x":7e-4,"n":9,"cos":0.67},{"x":1e-3,"n":9,"cos":0.58},{"x":1.5e-3,"n":9,"cos":0.47},{"x":2.5e-3,"n":9,"cos":0.36},{"x":4e-3,"n":9,"cos":0.28},{"x":6e-3,"n":9,"cos":0.24},{"x":0.01,"n":9,"cos":0.215},{"x":0.015,"n":9,"cos":0.205},{"x":0.02,"n":9,"cos":0.2},{"x":0.03,"n":9,"cos":0.2},{"x":0.05,"n":9,"cos":0.21},{"x":0.07,"n":9,"cos":0.225},{"x":0.1,"n":9,"cos":0.24},{"x":0.15,"n":9,"cos":0.25},{"x":0.2,"n":9,"cos":0.255},{"x":0.3,"n":9,"cos":0.255},{"x":0.4,"n":9,"cos":0.21},{"x":0.5,"n":9,"cos":0.14},{"x":0.6,"n":9,"cos":0.09},{"x":0.7,"n":9,"cos":0.06},{"x":0.8,"n":9,"cos":0.045},{"x":0.9,"n":9,"cos":0.04},{"x":0.96,"n":9,"cos":0.02},
      {"x":1e-5,"n":10,"cos":0.79},{"x":2e-5,"n":10,"cos":0.835},{"x":5e-5,"n":10,"cos":0.875},{"x":1e-4,"n":10,"cos":0.89},{"x":2e-4,"n":10,"cos":0.87},{"x":4e-4,"n":10,"cos":0.8},{"x":7e-4,"n":10,"cos":0.68},{"x":1e-3,"n":10,"cos":0.59},{"x":1.5e-3,"n":10,"cos":0.48},{"x":2.5e-3,"n":10,"cos":0.37},{"x":4e-3,"n":10,"cos":0.29},{"x":6e-3,"n":10,"cos":0.25},{"x":0.01,"n":10,"cos":0.225},{"x":0.015,"n":10,"cos":0.21},{"x":0.02,"n":10,"cos":0.2},{"x":0.03,"n":10,"cos":0.195},{"x":0.05,"n":10,"cos":0.193},{"x":0.07,"n":10,"cos":0.195},{"x":0.1,"n":10,"cos":0.2},{"x":0.15,"n":10,"cos":0.22},{"x":0.2,"n":10,"cos":0.245},{"x":0.3,"n":10,"cos":0.26},{"x":0.4,"n":10,"cos":0.19},{"x":0.5,"n":10,"cos":0.1},{"x":0.6,"n":10,"cos":0.045},{"x":0.7,"n":10,"cos":0.015},{"x":0.8,"n":10,"cos":0},{"x":0.9,"n":10,"cos":-0.005},{"x":0.96,"n":10,"cos":-0.01},
      {"x":1e-5,"n":11,"cos":0.8},{"x":2e-5,"n":11,"cos":0.845},{"x":5e-5,"n":11,"cos":0.885},{"x":1e-4,"n":11,"cos":0.9},{"x":2e-4,"n":11,"cos":0.88},{"x":4e-4,"n":11,"cos":0.805},{"x":7e-4,"n":11,"cos":0.68},{"x":1e-3,"n":11,"cos":0.585},{"x":1.5e-3,"n":11,"cos":0.47},{"x":2.5e-3,"n":11,"cos":0.355},{"x":4e-3,"n":11,"cos":0.275},{"x":6e-3,"n":11,"cos":0.23},{"x":0.01,"n":11,"cos":0.205},{"x":0.015,"n":11,"cos":0.19},{"x":0.02,"n":11,"cos":0.18},{"x":0.03,"n":11,"cos":0.175},{"x":0.05,"n":11,"cos":0.175},{"x":0.07,"n":11,"cos":0.18},{"x":0.1,"n":11,"cos":0.19},{"x":0.15,"n":11,"cos":0.215},{"x":0.2,"n":11,"cos":0.245},{"x":0.3,"n":11,"cos":0.265},{"x":0.4,"n":11,"cos":0.18},{"x":0.5,"n":11,"cos":0.09},{"x":0.6,"n":11,"cos":0.04},{"x":0.7,"n":11,"cos":0.015},{"x":0.8,"n":11,"cos":0.008},{"x":0.9,"n":11,"cos":0.005},{"x":0.96,"n":11,"cos":0},
      {"x":1e-5,"n":12,"cos":0.81},{"x":2e-5,"n":12,"cos":0.855},{"x":5e-5,"n":12,"cos":0.895},{"x":1e-4,"n":12,"cos":0.905},{"x":2e-4,"n":12,"cos":0.88},{"x":4e-4,"n":12,"cos":0.8},{"x":7e-4,"n":12,"cos":0.67},{"x":1e-3,"n":12,"cos":0.57},{"x":1.5e-3,"n":12,"cos":0.455},{"x":2.5e-3,"n":12,"cos":0.34},{"x":4e-3,"n":12,"cos":0.26},{"x":6e-3,"n":12,"cos":0.215},{"x":0.01,"n":12,"cos":0.185},{"x":0.015,"n":12,"cos":0.17},{"x":0.02,"n":12,"cos":0.16},{"x":0.03,"n":12,"cos":0.155},{"x":0.05,"n":12,"cos":0.16},{"x":0.07,"n":12,"cos":0.175},{"x":0.1,"n":12,"cos":0.2},{"x":0.15,"n":12,"cos":0.24},{"x":0.2,"n":12,"cos":0.275},{"x":0.3,"n":12,"cos":0.29},{"x":0.4,"n":12,"cos":0.17},{"x":0.5,"n":12,"cos":0.06},{"x":0.6,"n":12,"cos":0},{"x":0.7,"n":12,"cos":-0.02},{"x":0.8,"n":12,"cos":-0.026},{"x":0.9,"n":12,"cos":-0.025},{"x":0.96,"n":12,"cos":-0.01},
      {"x":1e-5,"n":13,"cos":0.82},{"x":2e-5,"n":13,"cos":0.86},{"x":5e-5,"n":13,"cos":0.895},{"x":1e-4,"n":13,"cos":0.9},{"x":2e-4,"n":13,"cos":0.87},{"x":4e-4,"n":13,"cos":0.79},{"x":7e-4,"n":13,"cos":0.66},{"x":1e-3,"n":13,"cos":0.56},{"x":1.5e-3,"n":13,"cos":0.445},{"x":2.5e-3,"n":13,"cos":0.33},{"x":4e-3,"n":13,"cos":0.25},{"x":6e-3,"n":13,"cos":0.205},{"x":0.01,"n":13,"cos":0.165},{"x":0.015,"n":13,"cos":0.155},{"x":0.02,"n":13,"cos":0.15},{"x":0.03,"n":13,"cos":0.15},{"x":0.05,"n":13,"cos":0.16},{"x":0.07,"n":13,"cos":0.18},{"x":0.1,"n":13,"cos":0.21},{"x":0.15,"n":13,"cos":0.25},{"x":0.2,"n":13,"cos":0.28},{"x":0.3,"n":13,"cos":0.285},{"x":0.4,"n":13,"cos":0.19},{"x":0.5,"n":13,"cos":0.08},{"x":0.6,"n":13,"cos":0.025},{"x":0.7,"n":13,"cos":0.005},{"x":0.8,"n":13,"cos":-0.003},{"x":0.9,"n":13,"cos":-0.002},{"x":0.96,"n":13,"cos":0},
      {"x":1e-5,"n":14,"cos":0.83},{"x":2e-5,"n":14,"cos":0.865},{"x":5e-5,"n":14,"cos":0.895},{"x":1e-4,"n":14,"cos":0.895},{"x":2e-4,"n":14,"cos":0.86},{"x":4e-4,"n":14,"cos":0.77},{"x":7e-4,"n":14,"cos":0.64},{"x":1e-3,"n":14,"cos":0.55},{"x":1.5e-3,"n":14,"cos":0.435},{"x":2.5e-3,"n":14,"cos":0.32},{"x":4e-3,"n":14,"cos":0.24},{"x":6e-3,"n":14,"cos":0.19},{"x":0.01,"n":14,"cos":0.15},{"x":0.015,"n":14,"cos":0.14},{"x":0.02,"n":14,"cos":0.135},{"x":0.03,"n":14,"cos":0.14},{"x":0.05,"n":14,"cos":0.165},{"x":0.07,"n":14,"cos":0.185},{"x":0.1,"n":14,"cos":0.21},{"x":0.15,"n":14,"cos":0.245},{"x":0.2,"n":14,"cos":0.27},{"x":0.3,"n":14,"cos":0.275},{"x":0.4,"n":14,"cos":0.2},{"x":0.5,"n":14,"cos":0.1},{"x":0.6,"n":14,"cos":0.06},{"x":0.7,"n":14,"cos":0.05},{"x":0.8,"n":14,"cos":0.05},{"x":0.9,"n":14,"cos":0.06},{"x":0.96,"n":14,"cos":0.05},
      {"x":1e-5,"n":15,"cos":0.84},{"x":2e-5,"n":15,"cos":0.87},{"x":5e-5,"n":15,"cos":0.89},{"x":1e-4,"n":15,"cos":0.885},{"x":2e-4,"n":15,"cos":0.84},{"x":4e-4,"n":15,"cos":0.75},{"x":7e-4,"n":15,"cos":0.62},{"x":1e-3,"n":15,"cos":0.53},{"x":1.5e-3,"n":15,"cos":0.42},{"x":2.5e-3,"n":15,"cos":0.305},{"x":4e-3,"n":15,"cos":0.225},{"x":6e-3,"n":15,"cos":0.175},{"x":0.01,"n":15,"cos":0.13},{"x":0.015,"n":15,"cos":0.125},{"x":0.02,"n":15,"cos":0.125},{"x":0.03,"n":15,"cos":0.135},{"x":0.05,"n":15,"cos":0.165},{"x":0.07,"n":15,"cos":0.18},{"x":0.1,"n":15,"cos":0.2},{"x":0.15,"n":15,"cos":0.225},{"x":0.2,"n":15,"cos":0.25},{"x":0.3,"n":15,"cos":0.265},{"x":0.4,"n":15,"cos":0.21},{"x":0.5,"n":15,"cos":0.13},{"x":0.6,"n":15,"cos":0.09},{"x":0.7,"n":15,"cos":0.08},{"x":0.8,"n":15,"cos":0.085},{"x":0.9,"n":15,"cos":0.117},{"x":0.96,"n":15,"cos":0.13},
      {"x":1e-5,"n":16,"cos":0.78},{"x":2e-5,"n":16,"cos":0.82},{"x":5e-5,"n":16,"cos":0.855},{"x":1e-4,"n":16,"cos":0.86},{"x":2e-4,"n":16,"cos":0.78},{"x":4e-4,"n":16,"cos":0.64},{"x":7e-4,"n":16,"cos":0.48},{"x":1e-3,"n":16,"cos":0.38},{"x":1.5e-3,"n":16,"cos":0.29},{"x":2.5e-3,"n":16,"cos":0.2},{"x":4e-3,"n":16,"cos":0.15},{"x":6e-3,"n":16,"cos":0.13},{"x":0.01,"n":16,"cos":0.115},{"x":0.015,"n":16,"cos":0.1},{"x":0.02,"n":16,"cos":0.095},{"x":0.03,"n":16,"cos":0.1},{"x":0.05,"n":16,"cos":0.13},{"x":0.07,"n":16,"cos":0.148},{"x":0.1,"n":16,"cos":0.145},{"x":0.15,"n":16,"cos":0.133},{"x":0.2,"n":16,"cos":0.149},{"x":0.3,"n":16,"cos":0.219},{"x":0.4,"n":16,"cos":0.26},{"x":0.5,"n":16,"cos":0.219},{"x":0.6,"n":16,"cos":0.184},{"x":0.7,"n":16,"cos":0.162},{"x":0.8,"n":16,"cos":0.155},{"x":0.9,"n":16,"cos":0.181},{"x":0.96,"n":16,"cos":0.05},
      {"x":1e-5,"n":17,"cos":0.8},{"x":2e-5,"n":17,"cos":0.84},{"x":5e-5,"n":17,"cos":0.87},{"x":1e-4,"n":17,"cos":0.86},{"x":2e-4,"n":17,"cos":0.74},{"x":4e-4,"n":17,"cos":0.6},{"x":7e-4,"n":17,"cos":0.45},{"x":1e-3,"n":17,"cos":0.36},{"x":1.5e-3,"n":17,"cos":0.27},{"x":2.5e-3,"n":17,"cos":0.185},{"x":4e-3,"n":17,"cos":0.14},{"x":6e-3,"n":17,"cos":0.115},{"x":0.01,"n":17,"cos":0.1},{"x":0.015,"n":17,"cos":0.09},{"x":0.02,"n":17,"cos":0.09},{"x":0.03,"n":17,"cos":0.1},{"x":0.05,"n":17,"cos":0.15},{"x":0.07,"n":17,"cos":0.14},{"x":0.1,"n":17,"cos":0.091},{"x":0.15,"n":17,"cos":0.053},{"x":0.2,"n":17,"cos":0.066},{"x":0.3,"n":17,"cos":0.162},{"x":0.4,"n":17,"cos":0.289},{"x":0.5,"n":17,"cos":0.302},{"x":0.6,"n":17,"cos":0.283},{"x":0.7,"n":17,"cos":0.257},{"x":0.8,"n":17,"cos":0.254},{"x":0.9,"n":17,"cos":0.27},{"x":0.96,"n":17,"cos":0.28},
      {"x":1e-5,"n":18,"cos":0.748},{"x":2e-5,"n":18,"cos":0.76},{"x":5e-5,"n":18,"cos":0.772},{"x":1e-4,"n":18,"cos":0.765},{"x":2e-4,"n":18,"cos":0.7},{"x":4e-4,"n":18,"cos":0.58},{"x":7e-4,"n":18,"cos":0.44},{"x":1e-3,"n":18,"cos":0.36},{"x":1.5e-3,"n":18,"cos":0.27},{"x":2.5e-3,"n":18,"cos":0.19},{"x":4e-3,"n":18,"cos":0.14},{"x":6e-3,"n":18,"cos":0.115},{"x":0.01,"n":18,"cos":0.1},{"x":0.015,"n":18,"cos":0.09},{"x":0.02,"n":18,"cos":0.085},{"x":0.03,"n":18,"cos":0.085},{"x":0.05,"n":18,"cos":0.09},{"x":0.07,"n":18,"cos":0.08},{"x":0.1,"n":18,"cos":0.047},{"x":0.15,"n":18,"cos":0.005},{"x":0.2,"n":18,"cos":0.021},{"x":0.3,"n":18,"cos":0.181},{"x":0.4,"n":18,"cos":0.347},{"x":0.5,"n":18,"cos":0.378},{"x":0.6,"n":18,"cos":0.359},{"x":0.7,"n":18,"cos":0.337},{"x":0.8,"n":18,"cos":0.324},{"x":0.9,"n":18,"cos":0.318},{"x":0.96,"n":18,"cos":0.02}
    ]
  },
  "hconcat": [
    {
      "width": 1249,
      "height": 831,
      "title": {"text": "CT14HERA2 u(x,100GeV) and Z rapidity", "anchor": "middle"},
      "layer": [
        {
          "data": {"values": [{}]},
          "mark": {"type": "rule", "color": "#8c8c8c", "strokeWidth": 1.3},
          "encoding": {"y": {"datum": 0, "scale": {"domain": [-0.3, 1.0], "nice": false, "zero": false}}}
        },
        {
          "data": {"name": "xmaj"},
          "mark": {"type": "rule", "color": "black", "strokeWidth": 2},
          "encoding": {
            "x": {"field": "t", "type": "quantitative", "scale": {"type": "pow", "exponent": 0.2, "domain": [0.00001, 0.965], "nice": false, "zero": false}},
            "y": {"datum": -0.3},
            "y2": {"datum": -0.2719}
          }
        },
        {
          "data": {"name": "xmaj"},
          "mark": {"type": "rule", "color": "black", "strokeWidth": 2},
          "encoding": {"x": {"field": "t", "type": "quantitative"}, "y": {"datum": 1.0}, "y2": {"datum": 0.9719}}
        },
        {
          "data": {"name": "xmin"},
          "mark": {"type": "rule", "color": "black", "strokeWidth": 2},
          "encoding": {"x": {"field": "t", "type": "quantitative"}, "y": {"datum": -0.3}, "y2": {"datum": -0.2859}}
        },
        {
          "data": {"name": "xmin"},
          "mark": {"type": "rule", "color": "black", "strokeWidth": 2},
          "encoding": {"x": {"field": "t", "type": "quantitative"}, "y": {"datum": 1.0}, "y2": {"datum": 0.9859}}
        },
        {
          "data": {"name": "ymaj"},
          "mark": {"type": "rule", "color": "black", "strokeWidth": 2},
          "encoding": {"y": {"field": "t", "type": "quantitative"}, "x": {"datum": 0.00001}, "x2": {"datum": 0.00001832}}
        },
        {
          "data": {"name": "ymaj"},
          "mark": {"type": "rule", "color": "black", "strokeWidth": 2},
          "encoding": {"y": {"field": "t", "type": "quantitative"}, "x": {"datum": 0.965}, "x2": {"datum": 0.9043}}
        },
        {
          "data": {"name": "ymin"},
          "mark": {"type": "rule", "color": "black", "strokeWidth": 2},
          "encoding": {"y": {"field": "t", "type": "quantitative"}, "x": {"datum": 0.00001}, "x2": {"datum": 0.00001366}}
        },
        {
          "data": {"name": "ymin"},
          "mark": {"type": "rule", "color": "black", "strokeWidth": 2},
          "encoding": {"y": {"field": "t", "type": "quantitative"}, "x": {"datum": 0.965}, "x2": {"datum": 0.9342}}
        },
        {
          "data": {"name": "u"},
          "mark": {"type": "line", "interpolate": "monotone", "strokeWidth": 2.2, "clip": true},
          "encoding": {
            "x": {
              "field": "x", "type": "quantitative",
              "axis": {
                "values": [0.0001, 0.001, 0.01, 0.1, 0.2, 0.5, 0.9],
                "labelExpr": "datum.value < 0.0005 ? '10⁻⁴' : datum.value < 0.005 ? '10⁻³' : datum.value < 0.05 ? '10⁻²' : datum.value < 0.15 ? '10⁻¹' : format(datum.value, '.1f')",
                "title": "x"
              }
            },
            "y": {
              "field": "cos", "type": "quantitative",
              "axis": {"values": [0, 0.5, 1.0], "format": ".1f", "title": "cos φ"}
            },
            "color": {
              "field": "n", "type": "nominal",
              "scale": {
                "domain": [1, 2, 3, 4, 5, 6, 7, 8, 9, 10, 11, 12, 13, 14, 15, 16, 17, 18],
                "range": ["#d21c4f", "#98a03c", "#3a3aa0", "#5a5a5a", "#4fb8a6", "#d6e21a", "#000000", "#ef2d62", "#8a8a8a", "#cc1848", "#9aa23e", "#3838c0", "#9a3cb4", "#4cbcaa", "#dee62a", "#000000", "#ff3a1e", "#888888"]
              },
              "legend": {
                "orient": "none", "legendX": 741, "legendY": 21,
                "labelFont": "Liberation Serif",
                "encoding": {"symbols": {"shape": {"condition": {"test": "datum.value >= 10", "value": "M-1.17,0H1.17M0,-0.21V0.21"}, "value": "M-1.17,0H1.17"}}}
              }
            }
          }
        },
        {
          "data": {"name": "u"},
          "transform": [{"filter": "datum.n >= 10"}],
          "mark": {"type": "point", "shape": "M-1,0H1M0,-1V1", "filled": false, "size": 81, "strokeWidth": 1.8, "opacity": 1, "clip": true},
          "encoding": {
            "x": {"field": "x", "type": "quantitative"},
            "y": {"field": "cos", "type": "quantitative"},
            "color": {"field": "n", "type": "nominal", "legend": null}
          }
        },
        {
          "data": {"values": [{"label": "CT14HERA2"}]},
          "mark": {"type": "text", "align": "left", "baseline": "alphabetic", "fontSize": 56, "font": "Liberation Serif", "color": "black"},
          "encoding": {"text": {"field": "label"}, "x": {"datum": 0.0052}, "y": {"datum": 0.848}}
        }
      ]
    },
    {
      "width": 1249,
      "height": 831,
      "title": {"text": "CT14HERA2 d(x,100GeV) and Z rapidity", "anchor": "middle"},
      "layer": [
        {
          "data": {"values": [{}]},
          "mark": {"type": "rule", "color": "#8c8c8c", "strokeWidth": 1.3},
          "encoding": {"y": {"datum": 0, "scale": {"domain": [-0.3, 1.0], "nice": false, "zero": false}}}
        },
        {
          "data": {"name": "xmaj"},
          "mark": {"type": "rule", "color": "black", "strokeWidth": 2},
          "encoding": {
            "x": {"field": "t", "type": "quantitative", "scale": {"type": "pow", "exponent": 0.2, "domain": [0.00001, 0.965], "nice": false, "zero": false}},
            "y": {"datum": -0.3},
            "y2": {"datum": -0.2719}
          }
        },
        {
          "data": {"name": "xmaj"},
          "mark": {"type": "rule", "color": "black", "strokeWidth": 2},
          "encoding": {"x": {"field": "t", "type": "quantitative"}, "y": {"datum": 1.0}, "y2": {"datum": 0.9719}}
        },
        {
          "data": {"name": "xmin"},
          "mark": {"type": "rule", "color": "black", "strokeWidth": 2},
          "encoding": {"x": {"field": "t", "type": "quantitative"}, "y": {"datum": -0.3}, "y2": {"datum": -0.2859}}
        },
        {
          "data": {"name": "xmin"},
          "mark": {"type": "rule", "color": "black", "strokeWidth": 2},
          "encoding": {"x": {"field": "t", "type": "quantitative"}, "y": {"datum": 1.0}, "y2": {"datum": 0.9859}}
        },
        {
          "data": {"name": "ymaj"},
          "mark": {"type": "rule", "color": "black", "strokeWidth": 2},
          "encoding": {"y": {"field": "t", "type": "quantitative"}, "x": {"datum": 0.00001}, "x2": {"datum": 0.00001832}}
        },
        {
          "data": {"name": "ymaj"},
          "mark": {"type": "rule", "color": "black", "strokeWidth": 2},
          "encoding": {"y": {"field": "t", "type": "quantitative"}, "x": {"datum": 0.965}, "x2": {"datum": 0.9043}}
        },
        {
          "data": {"name": "ymin"},
          "mark": {"type": "rule", "color": "black", "strokeWidth": 2},
          "encoding": {"y": {"field": "t", "type": "quantitative"}, "x": {"datum": 0.00001}, "x2": {"datum": 0.00001366}}
        },
        {
          "data": {"name": "ymin"},
          "mark": {"type": "rule", "color": "black", "strokeWidth": 2},
          "encoding": {"y": {"field": "t", "type": "quantitative"}, "x": {"datum": 0.965}, "x2": {"datum": 0.9342}}
        },
        {
          "data": {"name": "d"},
          "mark": {"type": "line", "interpolate": "monotone", "strokeWidth": 2.2, "clip": true},
          "encoding": {
            "x": {
              "field": "x", "type": "quantitative",
              "axis": {
                "values": [0.0001, 0.001, 0.01, 0.1, 0.2, 0.5, 0.9],
                "labelExpr": "datum.value < 0.0005 ? '10⁻⁴' : datum.value < 0.005 ? '10⁻³' : datum.value < 0.05 ? '10⁻²' : datum.value < 0.15 ? '10⁻¹' : format(datum.value, '.1f')",
                "title": "x"
              }
            },
            "y": {
              "field": "cos", "type": "quantitative",
              "axis": {"values": [0, 0.5, 1.0], "format": ".1f", "title": "cos φ"}
            },
            "color": {
              "field": "n", "type": "nominal",
              "scale": {
                "domain": [1, 2, 3, 4, 5, 6, 7, 8, 9, 10, 11, 12, 13, 14, 15, 16, 17, 18],
                "range": ["#d21c4f", "#98a03c", "#3a3aa0", "#5a5a5a", "#4fb8a6", "#d6e21a", "#000000", "#ef2d62", "#8a8a8a", "#cc1848", "#9aa23e", "#3838c0", "#9a3cb4", "#4cbcaa", "#dee62a", "#000000", "#ff3a1e", "#888888"]
              },
              "legend": {
                "orient": "none", "legendX": 741, "legendY": 21,
                "labelFont": "Liberation Serif",
                "encoding": {"symbols": {"shape": {"condition": {"test": "datum.value >= 10", "value": "M-1.17,0H1.17M0,-0.21V0.21"}, "value": "M-1.17,0H1.17"}}}
              }
            }
          }
        },
        {
          "data": {"name": "d"},
          "transform": [{"filter": "datum.n >= 10"}],
          "mark": {"type": "point", "shape": "M-1,0H1M0,-1V1", "filled": false, "size": 81, "strokeWidth": 1.8, "opacity": 1, "clip": true},
          "encoding": {
            "x": {"field": "x", "type": "quantitative"},
            "y": {"field": "cos", "type": "quantitative"},
            "color": {"field": "n", "type": "nominal", "legend": null}
          }
        },
        {
          "data": {"values": [{"label": "CT14HERA2"}]},
          "mark": {"type": "text", "align": "left", "baseline": "alphabetic", "fontSize": 56, "font": "Liberation Serif", "color": "black"},
          "encoding": {"text": {"field": "label"}, "x": {"datum": 0.0052}, "y": {"datum": 0.848}}
        }
      ]
    }
  ],
  "config": {
    "font": "Liberation Serif",
    "view": {"stroke": "black", "strokeWidth": 2},
    "title": {"fontSize": 56, "fontWeight": "normal", "font": "Liberation Serif", "color": "black", "offset": -21},
    "text": {"font": "Liberation Serif"},
    "axis": {
      "ticks": false, "domain": false, "grid": false,
      "labelFont": "Liberation Serif", "titleFont": "Liberation Serif",
      "labelFontSize": 56, "titleFontSize": 56, "titleFontWeight": "normal",
      "labelColor": "black", "titleColor": "black",
      "labelFlush": false, "labelOverlap": false, "labelBound": false
    },
    "axisX": {"labelPadding": 16, "titlePadding": -21},
    "axisY": {"labelPadding": 21, "titlePadding": 3},
    "legend": {
      "title": null, "columns": 2, "symbolSize": 2209, "symbolStrokeWidth": 2.5,
      "labelFont": "Liberation Serif", "labelFontSize": 50, "labelColor": "black",
      "labelOffset": 18, "columnPadding": 36, "rowPadding": 0, "padding": 0
    }
  }
}
